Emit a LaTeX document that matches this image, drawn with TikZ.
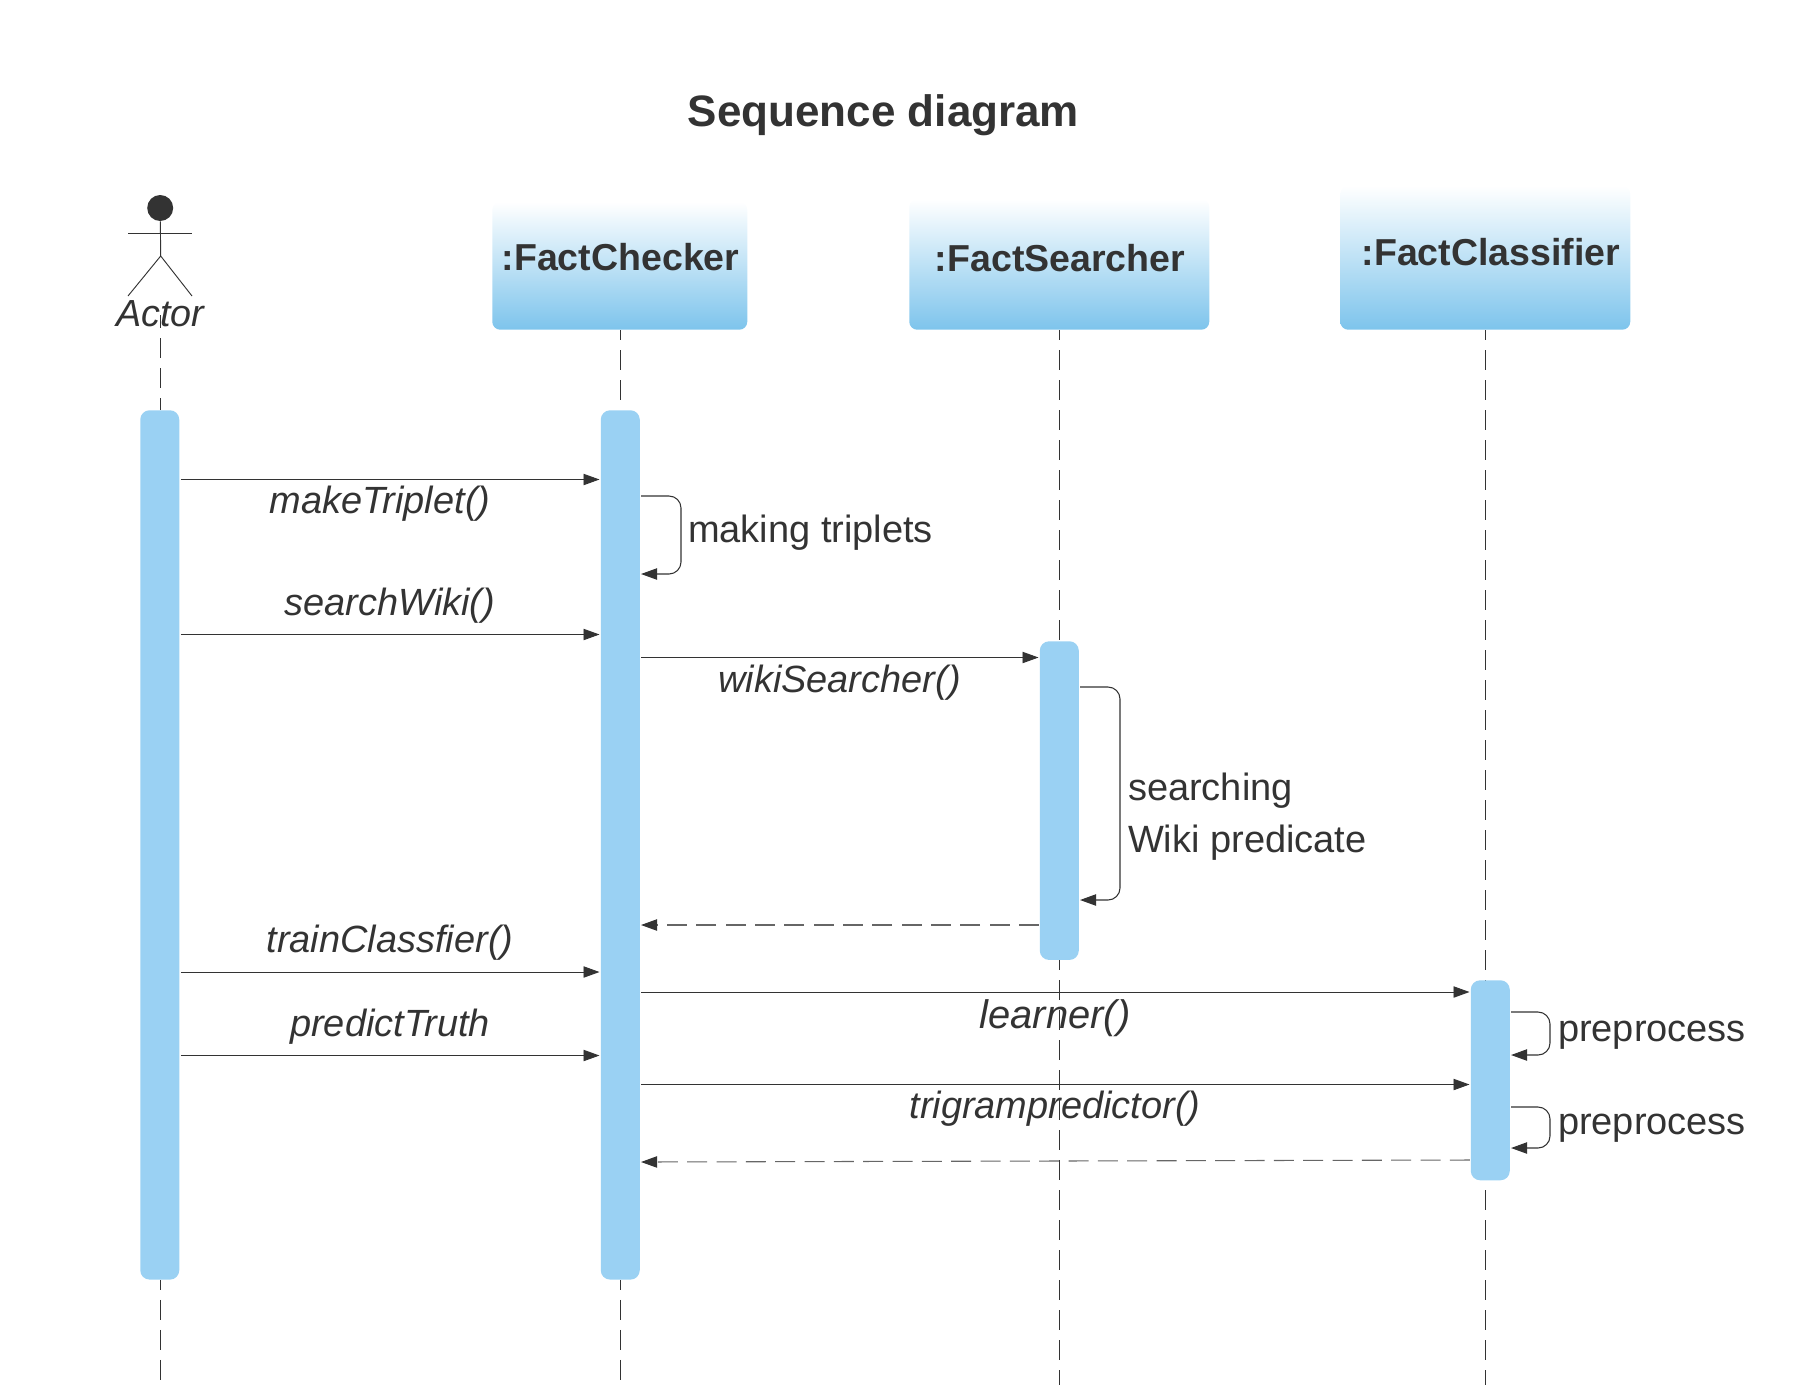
\documentclass[tikz,border=0pt]{standalone}
\usepackage{fontspec}
\setmainfont{Liberation Sans}
\usetikzlibrary{arrows.meta}
\definecolor{ink}{HTML}{333333}
\definecolor{barblue}{HTML}{9AD1F3}
\definecolor{headblue}{HTML}{7DC4EC}
\tikzset{
  x=0.75pt,y=-0.75pt,
  txt/.style={inner sep=0pt,outer sep=0pt,text=ink,font=\fontsize{28.5}{34}\selectfont},
  ittxt/.style={txt,font=\fontsize{28.45}{34}\selectfont\itshape,anchor=base},
  uptxt/.style={txt,anchor=base west},
  headtxt/.style={txt,font=\fontsize{28.15}{34}\selectfont\bfseries,anchor=base},
  headbox/.style={shade,top color=white,bottom color=headblue,rounded corners=6pt,inner sep=0pt,anchor=south west},
  bar/.style={fill=barblue,rounded corners=7pt,inner sep=0pt,anchor=north west,minimum width=29.25pt},
  life/.style={draw=ink,line width=0.7pt,dash pattern=on 15pt off 7.5pt},
  msg/.style={draw=ink,line width=0.7pt,shorten <=1pt,shorten >=0.75pt,-{Triangle[length=12pt,width=8.5pt]}},
  ret/.style={draw=ink!75,line width=0.8pt,shorten <=0.5pt,shorten >=0.75pt,dash pattern=on 15pt off 7pt,-{Triangle[length=12pt,width=8.5pt,fill=ink,color=ink]}},
  selfmsg/.style={draw=ink,line width=0.8pt,shorten <=0.75pt,shorten >=0.75pt,rounded corners=9pt,-{Triangle[length=12pt,width=8.5pt,fill=ink,color=ink]}},
  stick/.style={draw=ink,line width=0.7pt},
}
\begin{document}
\begin{tikzpicture}
\useasboundingbox (0,0) rectangle (1805,1385);
\node[txt,font=\fontsize{33}{40}\selectfont\bfseries,anchor=base] (title) at (883.5,126) {Sequence diagram};
% activation bars are placed first so lifelines can end on them
\path node[bar,minimum height=652pt] (a0) at (140,410) {}
      node[bar,minimum height=652pt] (a1) at (600.5,410) {};
% lifeline anchors
\coordinate (lt0) at (160.7,315);
\coordinate (lb0) at (160.7,1385);
\coordinate (lb1) at (620.5,1385);
\coordinate (lb2) at (1059.7,1385);
\coordinate (lb3) at (1485.3,1385);
% header boxes
\node[headbox,minimum width=191.25pt,minimum height=96pt] (h1) at (492,330) {};
\node[headbox,minimum width=225pt,minimum height=98pt] (h2) at (909,330) {};
\node[headbox,minimum width=217.5pt,minimum height=108pt] (h3) at (1340,330) {};
% lifelines
\draw[life,dash phase=5.25pt] (lt0) -- (lt0 |- a0.north);
\draw[life,dash phase=7.5pt] (a0.south -| lt0) -- (lb0);
\draw[life,dash phase=7.5pt] (lb1 |- h1.south) -- (lb1 |- a1.north);
\draw[life,dash phase=7.5pt] (a1.south -| lb1) -- (lb1);
\draw[life,dash phase=7.5pt] (lb2 |- h2.south) -- (lb2);
\draw[life,dash phase=7.5pt] (lb3 |- h3.south) -- (lb3);
\node[headtxt] (t1) at (620.5,270) {:FactChecker};
\node[headtxt] (t2) at (1060,271.5) {:FactSearcher};
\node[headtxt] (t3) at (1491,265) {:FactClassifier};
% actor
\node[circle,fill=ink,inner sep=0pt,minimum size=19.5pt] (head) at (160.2,208) {};
\coordinate (neck) at (160.7,256);
\coordinate (armL) at (128,233);
\coordinate (armR) at (192,233);
\coordinate (legL) at (128,296);
\coordinate (legR) at (192,296);
\draw[stick] (head) -- (neck);
\draw[stick] (armL) -- (armR);
\draw[stick] (legL) -- (neck) -- (legR);
\node[ittxt,font=\fontsize{28.3}{34}\selectfont\itshape] (actor) at (160.5,326.5) {Actor};
% remaining activation bars
\node[bar,minimum height=239pt] (a2) at (1039.5,641) {};
\node[bar,minimum height=150pt] (a3) at (1470.5,980) {};
% y levels
\foreach \n/\y in {m1/479.5,m2/634.5,m3/657.5,m4/925,m5/972,m6/992,m7/1055.5,m8/1084.5,m9/1160,s1a/496,s1b/574,s2a/687,s2b/900,s3a/1012,s3b/1055,s4a/1107,s4b/1148}
  \coordinate (\n) at (0,\y);
\coordinate (s1x) at (681,0);
\coordinate (s2x) at (1120,0);
\coordinate (s3x) at (1550,0);
% messages
\draw[msg] (a0.east |- m1) -- (a1.west |- m1);
\draw[msg] (a0.east |- m2) -- (a1.west |- m2);
\draw[msg] (a1.east |- m3) -- (a2.west |- m3);
\draw[ret] (a2.west |- m4) -- (a1.east |- m4);
\draw[msg] (a0.east |- m5) -- (a1.west |- m5);
\draw[msg] (a1.east |- m6) -- (a3.west |- m6);
\draw[msg] (a0.east |- m7) -- (a1.west |- m7);
\draw[msg] (a1.east |- m8) -- (a3.west |- m8);
\draw[ret] (a3.west |- m9) -- ([yshift=-1.5pt]a1.east |- m9);
% self messages
\draw[selfmsg] (a1.east |- s1a) -- (s1x |- s1a) -- (s1x |- s1b) -- (a1.east |- s1b);
\draw[selfmsg] (a2.east |- s2a) -- (s2x |- s2a) -- (s2x |- s2b) -- (a2.east |- s2b);
\draw[selfmsg] (a3.east |- s3a) -- (s3x |- s3a) -- (s3x |- s3b) -- (a3.east |- s3b);
\draw[selfmsg] (a3.east |- s4a) -- (s3x |- s4a) -- (s3x |- s4b) -- (a3.east |- s4b);
% labels
\node[ittxt] (l1) at (380,513) {makeTriplet()};
\node[uptxt] (l2) at (688,542) {making triplets};
\node[ittxt] (l3) at (390,615) {searchWiki()};
\node[ittxt] (l4) at (839.5,692) {wikiSearcher()};
\node[txt,anchor=west,align=left,font=\fontsize{28.5}{39}\selectfont] (l5) at (1128,817) {searching\\Wiki predicate};
\node[ittxt] (l6) at (390,952) {trainClassfier()};
\node[ittxt] (l7) at (390,1036) {predictTruth};
\node[ittxt,font=\fontsize{29.9}{34}\selectfont\itshape] (l8) at (1055,1028) {learner()};
\node[ittxt] (l9) at (1055,1118) {trigrampredictor()};
\node[uptxt] (l10) at (1558,1041) {preprocess};
\node[uptxt] (l11) at (1558,1134) {preprocess};
\end{tikzpicture}
\end{document}
